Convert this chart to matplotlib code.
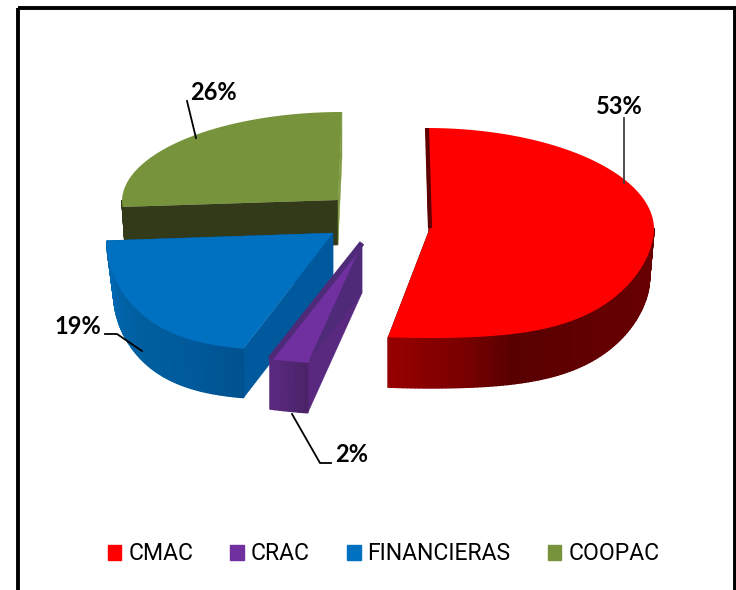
#!/usr/bin/env python3
"""Exploded 3D-style pie of market share by institution type."""

import numpy as np
import matplotlib
matplotlib.use('Agg')
import matplotlib.pyplot as plt
from matplotlib.patches import Patch, Polygon, Rectangle

labels = ['CMAC', 'CRAC', 'FINANCIERAS', 'COOPAC']
values = [53, 2, 19, 26]
value_text = ['53%', '2%', '19%', '26%']
top_colors = ['#ff0000', '#7030a0', '#0070c0', '#77933c']

# apex x, apex y, x radius, back y radius, front y radius, back lean, front lean,
# thickness, front bulge, lower rim shrink
geometry = [
    (430, 228, 224, 100, 110, -3, 0, 50, 8, 0.02),
    (362, 243, 310, 100, 122, 0, -4, 50, 0, 0.0),
    (333, 233, 225, 100, 118, 0, 21, 49, 10, 0.03),
    (338, 200, 216, 88, 110, 4, 0, 45, 0, 0.015),
]
side_colors = [
    ('#600000', '#600000'),
    ('#59287f', '#4f2a78'),
    ('#00599c', '#00599c'),
    ('#333a19', '#7f9a42'),
]
# wall shading along the rim: angle, colour
wall_stops = [
    ([90, 130, 158, 172, 191], ['#680000', '#640000', '#580000', '#7a0000', '#980000']),
    ([190, 199], ['#4a2265', '#5b2a84']),
    ([198, 215, 235, 250, 267], ['#00528e', '#005a9c', '#005f9f', '#0064ac', '#0068b4']),
    ([266, 270], ['#333a19', '#333a19']),
]
# dark line under the top face: which edge (0 start, 1 end) and its width
slivers = [(0, 3.0), (1, 4.0), None, None]

leaders = [
    ([624, 624], [118, 183], '#404040'),
    ([292, 320, 331], [414, 463, 463], 'black'),
    ([105, 117, 142], [334, 334, 351], 'black'),
    ([187, 196], [101, 138], 'black'),
]
label_pos = [(619, 107), (352, 455), (78, 327), (213, 93)]


def rim(geo, ang):
    """Rim position for clockwise angles from twelve o'clock, in degrees."""
    cx, cy, rx, ry_back, ry_front, lean_back, lean_front, _, bulge, _ = geo
    rad = np.radians(ang)
    cos = np.cos(rad)
    x = cx + rx * np.sin(rad) + np.where(cos > 0, lean_back, lean_front) * cos
    y = cy - np.where(cos > 0, ry_back, ry_front) * cos
    y = y + np.where(cos < 0, bulge * np.sin(2 * rad) ** 2, 0)
    return x, y


def lower(geo, ang):
    """Same rim on the underside, pulled in a little at the far left and right."""
    x, y = rim(geo, ang)
    return x - geo[9] * geo[2] * np.sin(np.radians(ang)) ** 3, y + geo[7]


def blend(stops, ang):
    pos, cols = stops
    rgb = np.array([matplotlib.colors.to_rgb(c) for c in cols])
    return [np.interp(ang, pos, rgb[:, i]) for i in range(3)]


def draw_slice(ax, i, a0, a1):
    geo = geometry[i]
    cx, cy, depth = geo[0], geo[1], geo[7]

    # flat cut faces on both sides of the slice
    for ang, col in zip((a0, a1), side_colors[i]):
        ax.add_patch(Polygon([(cx, cy), rim(geo, ang), lower(geo, ang), (cx, cy + depth)],
                             facecolor=col, edgecolor=col, lw=0.3))

    # outer wall, only the part facing the viewer
    start, stop = max(a0, 90), min(a1, 270)
    if stop > start:
        steps = np.linspace(start, stop, int(stop - start) + 2)
        for s0, s1 in zip(steps[:-1], steps[1:]):
            col = blend(wall_stops[i], (s0 + s1) / 2)
            ax.add_patch(Polygon([rim(geo, s0), rim(geo, s1), lower(geo, s1), lower(geo, s0)],
                                 facecolor=col, edgecolor=col, lw=1.0))

    if slivers[i]:
        edge, width = slivers[i]
        x, y = rim(geo, (a0, a1)[edge])
        ax.plot([cx, x], [cy, y], color=side_colors[i][edge], lw=width,
                solid_capstyle='butt')

    # top face
    ang = np.linspace(a0, a1, 200)
    x, y = rim(geo, ang)
    pts = np.column_stack([np.r_[cx, x], np.r_[cy, y]])
    ax.add_patch(Polygon(pts, facecolor=top_colors[i], edgecolor='none'))


def main():
    plt.rcParams['font.family'] = ['Lato', 'DejaVu Sans']
    fig = plt.figure(figsize=(7.36, 5.90), dpi=100)
    ax = fig.add_axes([0, 0, 1, 1])
    ax.set_xlim(0, 736)
    ax.set_ylim(590, 0)
    ax.axis('off')

    ax.add_patch(Rectangle((18, 8), 716.5, 600, fill=False, edgecolor='black', lw=2.8))

    edges = np.r_[0, np.cumsum(values)] / sum(values) * 360
    for i in [3, 2, 1, 0]:
        draw_slice(ax, i, edges[i], edges[i + 1])

    for lx, ly, col in leaders:
        ax.plot(lx, ly, color=col, lw=1.3)
    for txt, (x, y) in zip(value_text, label_pos):
        ax.text(x, y, txt, ha='center', va='center', fontsize=17, fontweight='bold',
                color='black')

    handles = [Patch(color=c, label=l) for c, l in zip(top_colors, labels)]
    ax.legend(handles=handles, ncol=4, frameon=False, loc='center',
              bbox_to_anchor=(383.5 / 736, 1 - 554 / 590),
              prop={'family': 'Roboto', 'size': 16.6},
              handlelength=0.6, handleheight=0.6, handletextpad=0.3, columnspacing=1.6,
              borderpad=0, labelcolor='black')

    fig.savefig('out.png', dpi=100)


if __name__ == '__main__':
    main()
